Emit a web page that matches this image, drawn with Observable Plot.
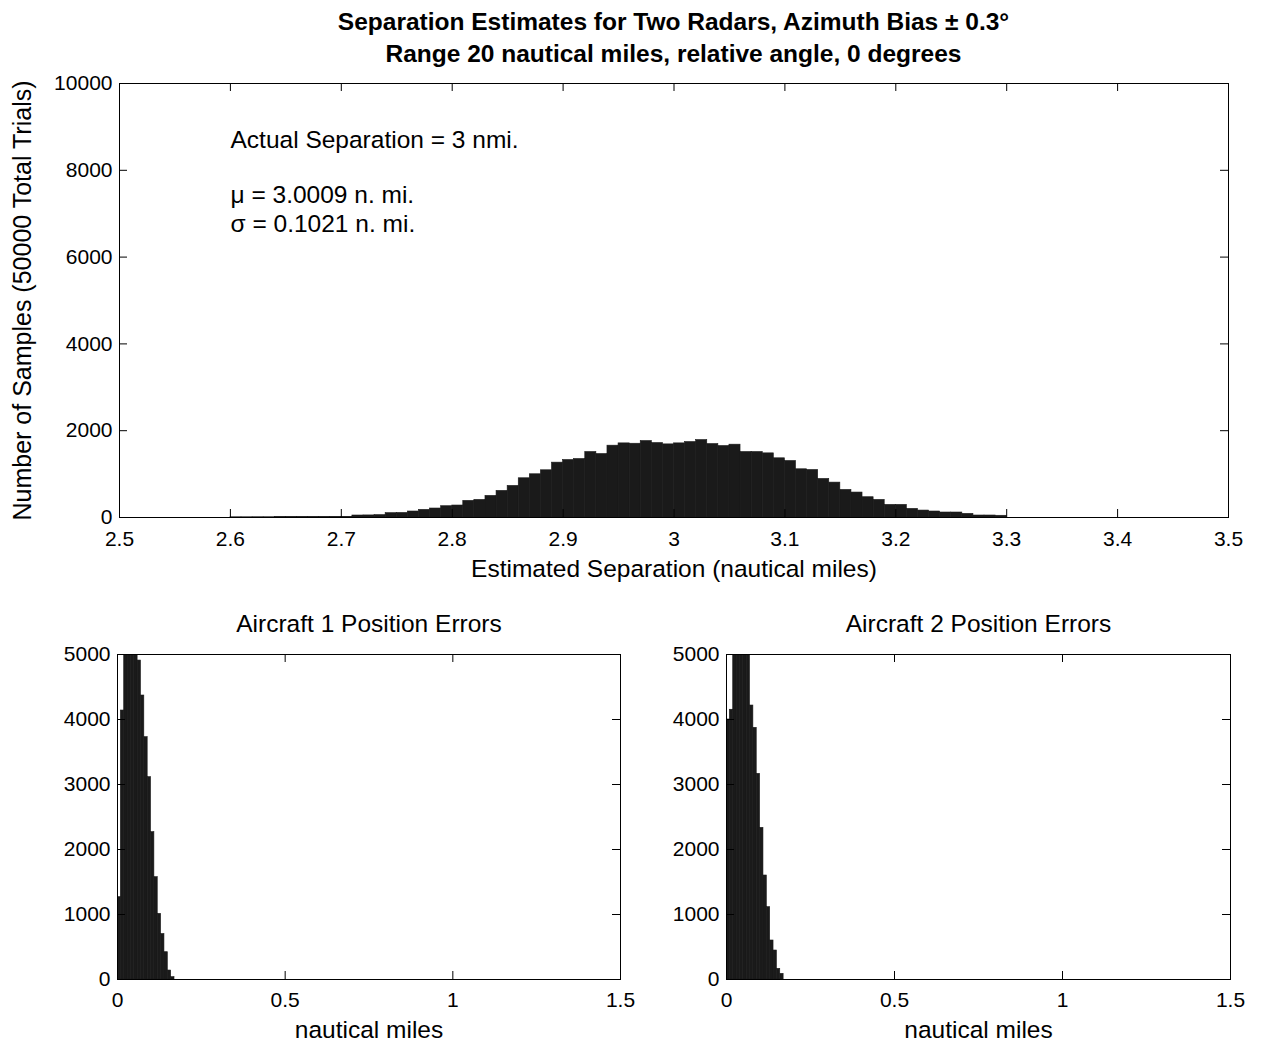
<!DOCTYPE html>
<html><head><meta charset="utf-8">
<script src="https://cdn.jsdelivr.net/npm/d3@7"></script>
<script src="https://cdn.jsdelivr.net/npm/@observablehq/plot@0.6"></script>
<style>
body{margin:0;background:#fff;font-family:"Liberation Sans",Arial,sans-serif;}
#root{position:relative;width:1265px;height:1044px;overflow:hidden;background:#fff;}
#root svg{position:absolute;}
.title{position:absolute;left:119px;width:1109px;text-align:center;font-weight:bold;font-size:24.5px;line-height:28px;color:#000;white-space:nowrap;}
</style></head><body><div id="root"></div>
<script>
// ---------- data ----------
const titleLines = ["Separation Estimates for Two Radars, Azimuth Bias \u00b1 0.3\u00b0",
                    "Range 20 nautical miles, relative angle, 0 degrees"];
// separation histogram: bins of 0.01 n.mi. starting at 2.60
const sepBinStart = 2.60;
const sepBinWidth = 0.01;
const sepCounts = [5,5,6,6,7,7,8,8,9,10,
  12,46,48,55,100,105,138,176,207,260,
  276,383,406,498,613,728,904,996,1088,1264,
  1325,1348,1509,1463,1655,1708,1700,1762,1716,1685,
  1708,1739,1785,1693,1647,1678,1509,1509,1478,1364,
  1302,1111,1095,889,804,636,575,467,406,291,
  291,199,160,138,115,115,84,46,46,40];
const sepXTicks = [2.5,2.6,2.7,2.8,2.9,3,3.1,3.2,3.3,3.4,3.5];
const sepYTicks = [0,2000,4000,6000,8000,10000];
const sepXLabel = "Estimated Separation (nautical miles)";
const sepYLabel = "Number of Samples (50000 Total Trials)";
const sepNotes = ["Actual Separation = 3 nmi.", "\u03bc = 3.0009 n. mi.", "\u03c3 = 0.1021 n. mi."];

// position error histograms: bins of 0.01 n.mi. starting at 0
const errBinWidth = 0.01;
const ac1Counts = [1267,4138,5300,5700,5800,5400,4907,4369,3728,3113,2267,1574,1010,700,420,138,36];
const ac2Counts = [4000,4150,5200,5500,5600,5400,5100,4215,3872,3164,2333,1600,1113,600,446,164,87];
const errXTicks = [0,0.5,1,1.5];
const errYTicks = [0,1000,2000,3000,4000,5000];
const errXLabel = "nautical miles";
const errTitles = ["Aircraft 1 Position Errors","Aircraft 2 Position Errors"];

// ---------- helpers ----------
const FONT = "Liberation Sans, Arial, sans-serif";
const BAR = "#1a1a1a";
const TXT = 24.5;
const TICKTXT = 21;
const fmt = d => String(d);
const binsFrom = (counts, start, w) => counts.map((c, i) => ({x1: start + i*w, x2: start + (i+1)*w, count: c}));

function inwardTicks(xt, yt, frameW, frameH, len) {
  return [
    Plot.tickX(xt, {x: d => d, insetTop: frameH - len, stroke: "black"}),
    Plot.tickX(xt, {x: d => d, insetBottom: frameH - len, stroke: "black"}),
    Plot.tickY(yt, {y: d => d, insetRight: frameW - len, stroke: "black"}),
    Plot.tickY(yt, {y: d => d, insetLeft: frameW - len, stroke: "black"})
  ];
}
const barOpts = extra => ({x1: "x1", x2: "x2", y: "count", fill: BAR, stroke: BAR, strokeWidth: 0.6, inset: 0, ...extra});

const root = document.getElementById("root");

// titles
titleLines.forEach((t, i) => {
  const d = document.createElement("div");
  d.className = "title";
  d.style.top = (i === 0 ? 8 : 40) + "px";
  d.textContent = t;
  root.appendChild(d);
});

// ---------- top plot ----------
{
  const W = 1265, H = 600, mL = 119, mR = 37, mT = 83, mB = 83;
  const fw = W - mL - mR, fh = H - mT - mB;
  const svg = Plot.plot({
    width: W, height: H, marginLeft: mL, marginRight: mR, marginTop: mT, marginBottom: mB,
    style: {fontFamily: FONT, fontSize: TXT + "px", color: "black", background: "transparent", overflow: "visible"},
    x: {domain: [2.5, 3.5]},
    y: {domain: [0, 10000]},
    marks: [
      Plot.rectY(binsFrom(sepCounts, sepBinStart, sepBinWidth), barOpts({})),
      Plot.frame({stroke: "black"}),
      ...inwardTicks(sepXTicks, sepYTicks, fw, fh, 8),
      Plot.axisX(sepXTicks, {tickSize: 0, tickPadding: 14, tickFormat: fmt, fontSize: TICKTXT, label: null}),
      Plot.axisY(sepYTicks, {tickSize: 0, tickPadding: 7, tickFormat: fmt, fontSize: TICKTXT, label: null}),
      Plot.text([sepXLabel], {frameAnchor: "bottom", dy: 52, lineAnchor: "middle", fontSize: TXT}),
      Plot.text([sepYLabel], {frameAnchor: "left", dx: -97, rotate: -90, textAnchor: "middle", lineAnchor: "middle", fontSize: 25}),
      Plot.text([sepNotes[0]], {frameAnchor: "top-left", dx: 111, dy: 57, textAnchor: "start", lineAnchor: "middle", fontSize: TXT}),
      Plot.text([sepNotes[1]], {frameAnchor: "top-left", dx: 111, dy: 112, textAnchor: "start", lineAnchor: "middle", fontSize: TXT}),
      Plot.text([sepNotes[2]], {frameAnchor: "top-left", dx: 111, dy: 141, textAnchor: "start", lineAnchor: "middle", fontSize: TXT})
    ]
  });
  svg.style.left = "0px"; svg.style.top = "0px";
  root.appendChild(svg);
}

// ---------- bottom plots ----------
function errPlot(counts, title, left, W, mL, mR) {
  const H = 444, mT = 54, mB = 65;
  const fw = W - mL - mR, fh = H - mT - mB;
  const svg = Plot.plot({
    width: W, height: H, marginLeft: mL, marginRight: mR, marginTop: mT, marginBottom: mB,
    style: {fontFamily: FONT, fontSize: TXT + "px", color: "black", background: "transparent", overflow: "visible"},
    x: {domain: [0, 1.5]},
    y: {domain: [0, 5000]},
    marks: [
      Plot.rectY(binsFrom(counts, 0, errBinWidth), barOpts({clip: true})),
      Plot.frame({stroke: "black"}),
      ...inwardTicks(errXTicks, errYTicks, fw, fh, 8),
      Plot.axisX(errXTicks, {tickSize: 0, tickPadding: 13, tickFormat: fmt, fontSize: TICKTXT, label: null}),
      Plot.axisY(errYTicks, {tickSize: 0, tickPadding: 7, tickFormat: fmt, fontSize: TICKTXT, label: null}),
      Plot.text([errXLabel], {frameAnchor: "bottom", dy: 51, lineAnchor: "middle", fontSize: TXT}),
      Plot.text([title], {frameAnchor: "top", dy: -30, lineAnchor: "middle", fontSize: TXT})
    ]
  });
  svg.style.left = left + "px"; svg.style.top = "600px";
  root.appendChild(svg);
}
errPlot(ac1Counts, errTitles[0], 0, 632, 117, 12);
errPlot(ac2Counts, errTitles[1], 632, 633, 94, 35);
</script></body></html>
